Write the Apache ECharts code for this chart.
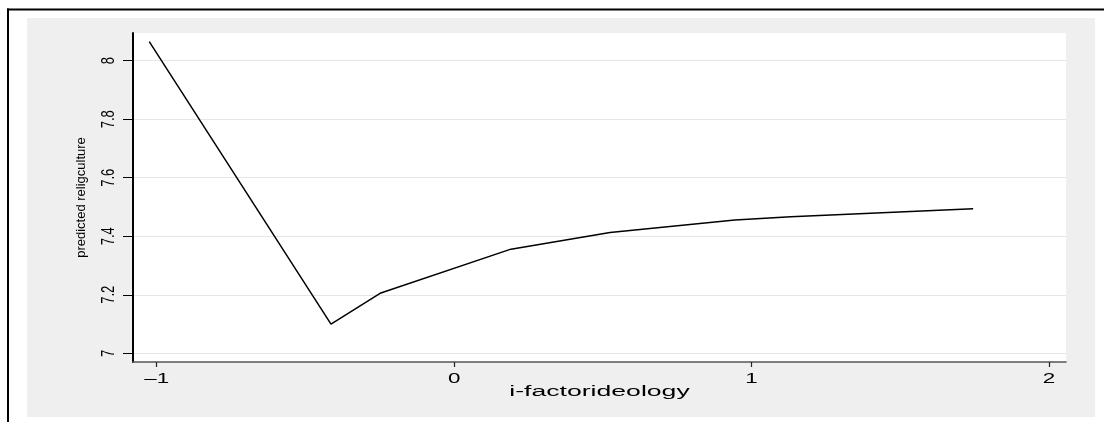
<!DOCTYPE html>
<html>
<head>
    <meta charset="utf-8">
    <title>predicted culture</title>
    <script src="https://cdn.jsdelivr.net/npm/echarts@6/dist/echarts.min.js"></script>
    <style>
        * {
            margin: 0;
            padding: 0
        }

        html, body {
            width: 100%;
            height: 100%;
            background: #fff;
        }

        #main {
            width: 1104px;
            height: 422px;
        }
    </style>
</head>
<body>
<div id="main"></div>
<script type="text/javascript">
    /*-------------------- 数据 -----------------------------*/
    var ideology = [-1.025, -0.414, -0.249, 0.191, 0.524, 0.944, 1.132, 1.745];
    var culture = [8.065, 7.100, 7.205, 7.356, 7.413, 7.456, 7.467, 7.494];
    var xTicks = [-1, 0, 1, 2];
    var yTicks = [7, 7.2, 7.4, 7.6, 7.8, 8];
    var xName = 'i-factorideology';
    var yName = 'predicted religculture';

    // plot region is a bit wider than the tick range (stata style)
    var xMin = -1.0797, xMax = 2.0572;
    var yMin = 6.9703, yMax = 8.0947;

    var chart = echarts.init(document.getElementById('main'));
    chart.setOption({
        animation: false,
        graphic: [
            {
                id: 'bg',
                type: 'rect',
                z: -10,
                shape: {x: 27, y: 18, width: 1068, height: 399},
                style: {fill: '#efefef'}
            },
            {
                id: 'frameTop',
                type: 'line',
                shape: {x1: 7, y1: 9.5, x2: 1104, y2: 9.5},
                style: {stroke: '#000', lineWidth: 2}
            },
            {
                id: 'frameLeft',
                type: 'line',
                shape: {x1: 8, y1: 8.5, x2: 8, y2: 422},
                style: {stroke: '#000', lineWidth: 2}
            }
        ],
        grid: {
            left: 133,
            right: 38,
            top: 33,
            bottom: 60,
            show: true,
            backgroundColor: '#fff',
            borderWidth: 0
        },
        xAxis: {
            type: 'value',
            min: xMin,
            max: xMax,
            axisLine: {
                show: true,
                onZero: false,
                lineStyle: {color: '#555', width: 1.5}
            },
            axisTick: {
                show: true,
                customValues: xTicks,
                length: 5,
                lineStyle: {color: '#222', width: 1.2}
            },
            axisLabel: {show: false},
            splitLine: {show: false}
        },
        yAxis: {
            type: 'value',
            min: yMin,
            max: yMax,
            name: yName,
            nameLocation: 'middle',
            nameGap: 45,
            nameTextStyle: {
                color: '#000',
                fontSize: 13,
                fontFamily: 'Liberation Sans'
            },
            axisLine: {
                show: true,
                onZero: false,
                lineStyle: {color: '#000', width: 2}
            },
            axisTick: {
                show: true,
                customValues: yTicks,
                length: 10,
                lineStyle: {color: '#000', width: 1}
            },
            axisLabel: {show: false},
            splitLine: {
                show: true,
                lineStyle: {color: '#e6e6e6', width: 1}
            }
        },
        series: [
            {
                type: 'line',
                data: ideology.map(function (x, i) {
                    return [x, culture[i]];
                }),
                showSymbol: false,
                symbol: 'none',
                lineStyle: {color: '#000', width: 1.5}
            }
        ]
    });

    // tick labels and x title are drawn stretched like the original export
    function txt(id, s, x, y, size, sx, sy, rot) {
        return {
            id: id,
            type: 'text',
            x: x,
            y: y,
            scaleX: sx,
            scaleY: sy,
            rotation: rot,
            style: {
                text: s,
                fontSize: size,
                fontFamily: 'Liberation Sans',
                fill: '#000',
                align: 'center',
                verticalAlign: 'middle',
                textAlign: 'center',
                textVerticalAlign: 'middle'
            }
        };
    }

    var extra = [];
    xTicks.forEach(function (v, i) {
        var px = chart.convertToPixel({xAxisIndex: 0}, v);
        var s = v < 0 ? '\u2013' + Math.abs(v) : String(v);
        extra.push(txt('xl' + i, s, px, 379, 14, 1.6, 1, 0));
    });
    yTicks.forEach(function (v, i) {
        var py = chart.convertToPixel({yAxisIndex: 0}, v);
        extra.push(txt('yl' + i, String(v), 109, py, 13, 1, 1.35, Math.PI / 2));
    });
    var cx = chart.convertToPixel({xAxisIndex: 0}, (xMin + xMax) / 2);
    extra.push(txt('xTitle', xName, cx, 392, 14, 1.9, 1, 0));
    chart.setOption({graphic: extra});
</script>
</body>
</html>
